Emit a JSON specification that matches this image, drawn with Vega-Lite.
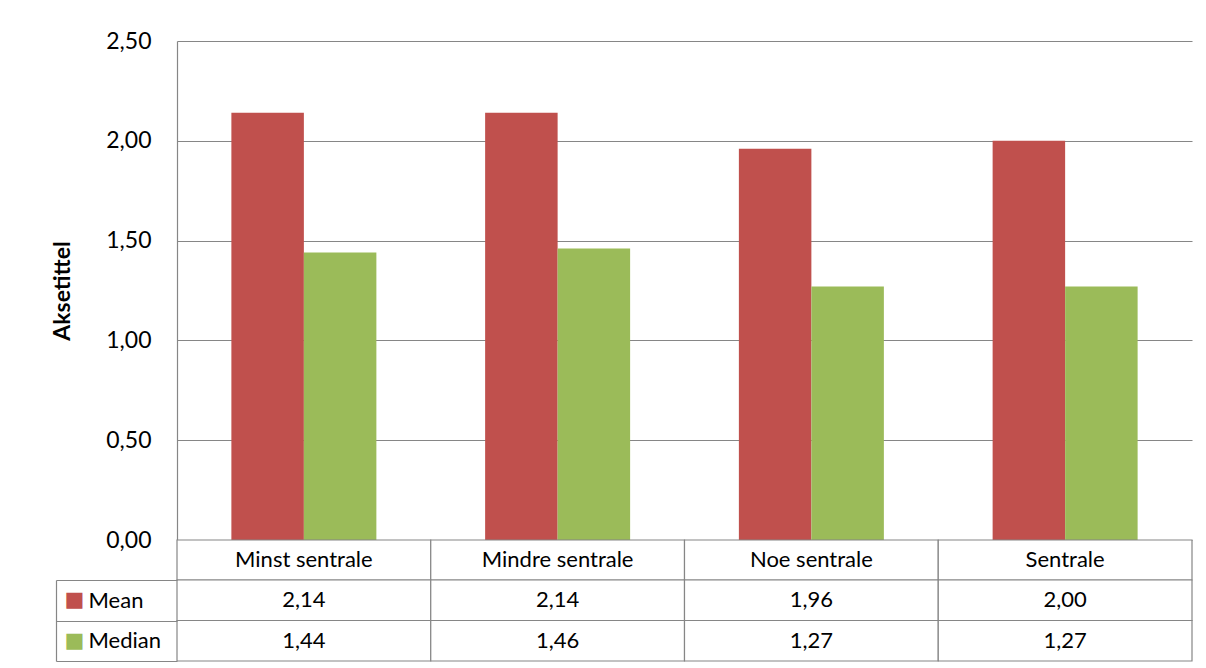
{
  "$schema": "https://vega.github.io/schema/vega-lite/v6.json",
  "padding": {"left": 51, "top": 30, "right": 0, "bottom": 0},
  "spacing": 0,
  "bounds": "flush",
  "background": "white",
  "config": {
    "font": "Lato",
    "view": {"stroke": null},
    "locale": {"number": {"decimal": ",", "thousands": " ", "grouping": [3], "currency": ["", " kr"]}},
    "axis": {"labelColor": "black", "titleColor": "black", "labelFontWeight": "normal"}
  },
  "datasets": {
    "vals": [
      {"category": "Minst sentrale", "series": "Mean", "value": 2.14},
      {"category": "Minst sentrale", "series": "Median", "value": 1.44},
      {"category": "Mindre sentrale", "series": "Mean", "value": 2.14},
      {"category": "Mindre sentrale", "series": "Median", "value": 1.46},
      {"category": "Noe sentrale", "series": "Mean", "value": 1.96},
      {"category": "Noe sentrale", "series": "Median", "value": 1.27},
      {"category": "Sentrale", "series": "Mean", "value": 2.0},
      {"category": "Sentrale", "series": "Median", "value": 1.27}
    ]
  },
  "vconcat": [
    {
      "width": 1015,
      "height": 499,
      "data": {"name": "vals"},
      "mark": {"type": "bar"},
      "encoding": {
        "x": {"field": "category", "type": "nominal", "sort": ["Minst sentrale", "Mindre sentrale", "Noe sentrale", "Sentrale"], "scale": {"paddingInner": 0.4286, "paddingOuter": 0.2143}, "axis": null},
        "xOffset": {"field": "series", "type": "nominal", "sort": ["Mean", "Median"], "scale": {"paddingInner": 0, "paddingOuter": 0}},
        "y": {
          "field": "value", "type": "quantitative",
          "scale": {"domain": [0, 2.5], "nice": false},
          "axis": {
            "values": [0, 0.5, 1, 1.5, 2, 2.5], "format": ".2f",
            "grid": true, "gridColor": "#868686", "gridWidth": 1.2,
            "domain": true, "domainColor": "#868686", "domainWidth": 1.2,
            "ticks": false, "labelPadding": 26, "labelFontSize": 23,
            "title": "Aksetittel", "titleFontSize": 23, "titleFontWeight": "bold", "titlePadding": 31
          }
        },
        "color": {"field": "series", "type": "nominal", "scale": {"domain": ["Mean", "Median"], "range": ["#C0504D", "#9BBB59"]}, "legend": null}
      }
    },
    {
      "width": 1015,
      "height": 40,
      "data": {"name": "vals"},
      "transform": [{"filter": "datum.series === 'Mean'"}],
      "layer": [
        {
          "mark": {"type": "rect", "fill": "white", "stroke": "#868686", "strokeWidth": 1.2},
          "encoding": {
            "x": {"field": "category", "type": "nominal", "sort": ["Minst sentrale", "Mindre sentrale", "Noe sentrale", "Sentrale"], "scale": {"paddingInner": 0, "paddingOuter": 0}, "axis": null}
          }
        },
        {
          "mark": {"type": "text", "fontSize": 22, "color": "black", "baseline": "middle"},
          "encoding": {
            "x": {"field": "category", "type": "nominal", "sort": ["Minst sentrale", "Mindre sentrale", "Noe sentrale", "Sentrale"], "axis": null},
            "text": {"field": "category", "type": "nominal"}
          }
        }
      ]
    },
    {
      "width": 1015,
      "height": 81,
      "data": {"name": "vals"},
      "layer": [
        {
          "mark": {"type": "rect", "fill": "white", "stroke": "#868686", "strokeWidth": 1.2},
          "encoding": {
            "x": {"field": "category", "type": "nominal", "sort": ["Minst sentrale", "Mindre sentrale", "Noe sentrale", "Sentrale"], "scale": {"paddingInner": 0, "paddingOuter": 0}, "axis": null},
            "y": {
              "field": "series", "type": "nominal", "sort": ["Mean", "Median"],
              "scale": {"paddingInner": 0, "paddingOuter": 0},
              "axis": {
                "orient": "left", "title": null, "domain": false,
                "ticks": true, "tickBand": "extent", "tickSize": 121, "tickColor": "#868686", "tickWidth": 1.2,
                "labelAlign": "left", "labelPadding": -32, "labelFontSize": 22, "labelOverlap": false, "labelBound": false
              }
            }
          }
        },
        {
          "mark": {"type": "text", "fontSize": 22, "color": "black", "baseline": "middle", "format": ".2f"},
          "encoding": {
            "x": {"field": "category", "type": "nominal", "sort": ["Minst sentrale", "Mindre sentrale", "Noe sentrale", "Sentrale"], "axis": null},
            "y": {
              "field": "series", "type": "nominal", "sort": ["Mean", "Median"],
              "axis": {
                "orient": "left", "offset": 121, "title": null, "domain": true, "domainColor": "#868686", "domainWidth": 1.2,
                "ticks": false, "labelExpr": "'■'", "labelFont": "DejaVu Sans", "labelFontSize": 21,
                "labelColor": {"condition": {"test": "datum.value === 'Mean'", "value": "#C0504D"}, "value": "#9BBB59"},
                "labelAlign": "left", "labelPadding": -8, "labelOverlap": false, "labelBound": false
              }
            },
            "text": {"field": "value", "type": "quantitative", "format": ".2f"}
          }
        }
      ],
      "resolve": {"axis": {"y": "independent"}}
    }
  ]
}
